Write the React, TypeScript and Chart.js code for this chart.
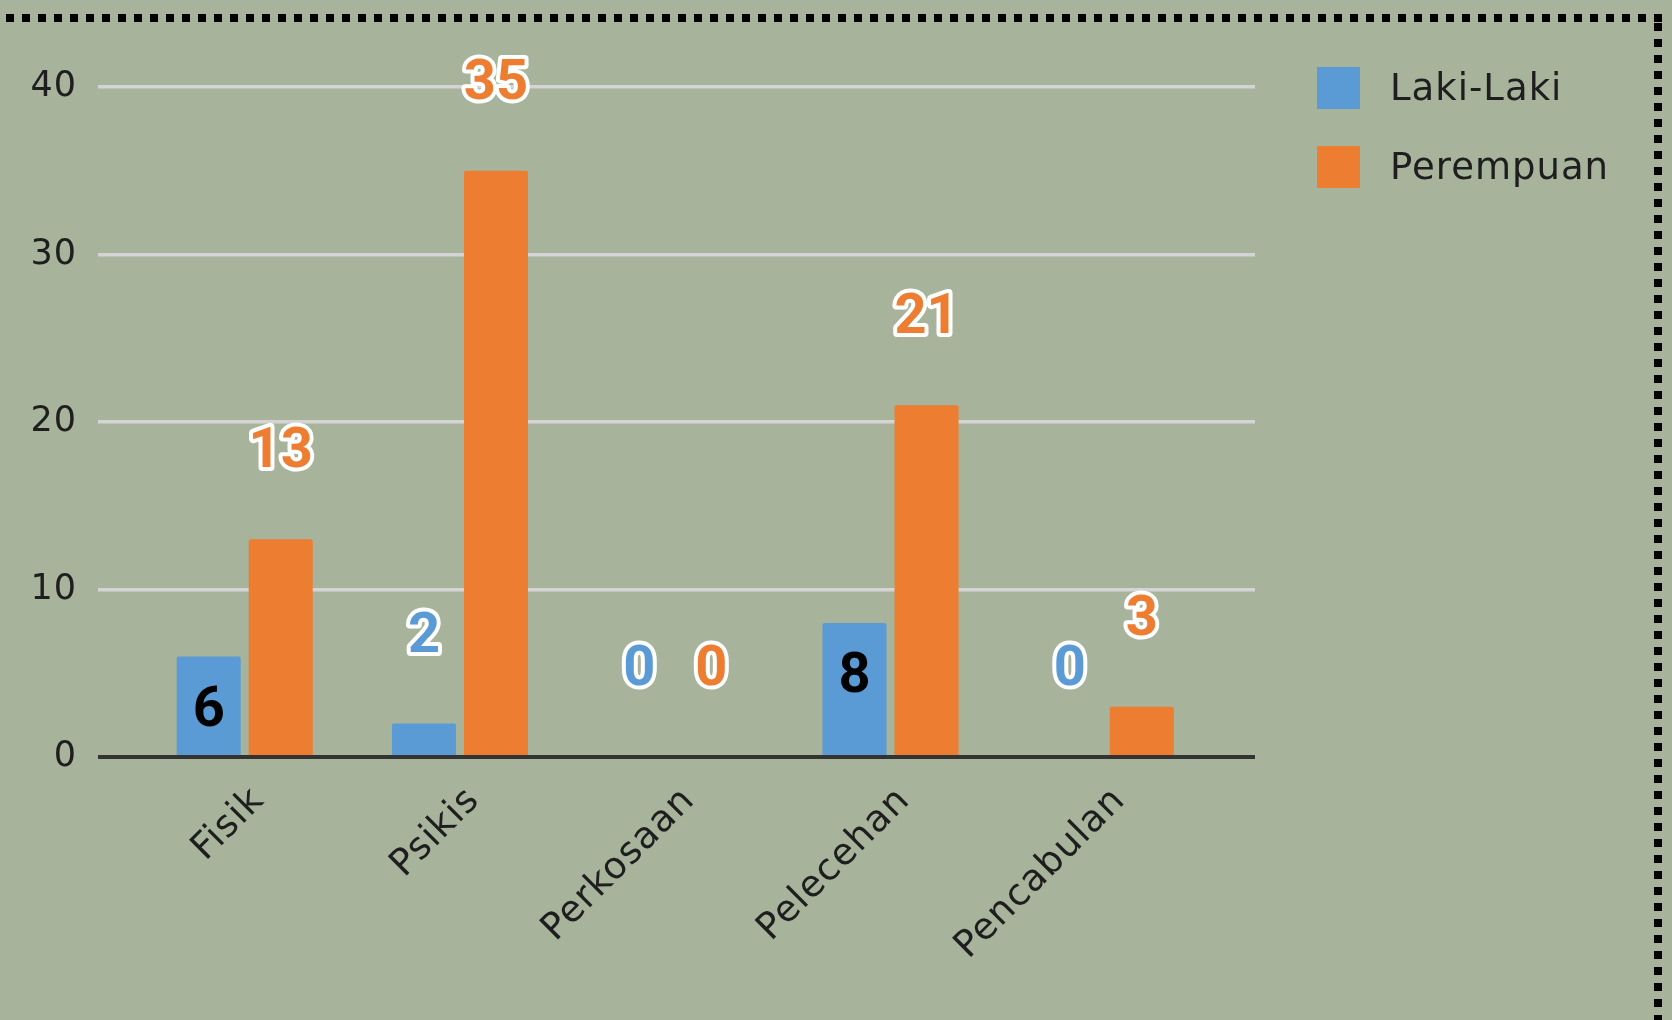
import React, { useEffect, useRef } from "react";
import { Chart, registerables } from "chart.js";

Chart.register(...registerables);

const categories = ["Fisik", "Psikis", "Perkosaan", "Pelecehan", "Pencabulan"];
const lakiLaki = [6, 2, 0, 8, 0];
const perempuan = [13, 35, 0, 21, 3];
const seriesNames = ["Laki-Laki", "Perempuan"];
const yMin = 0;
const yMax = 40;
const yStep = 10;

const BG = "#a7b39b";
const BLUE = "#5b9bd5";
const ORANGE = "#ed7d31";
const TEXT = "#1e1e1e";
const TICK_FONT = '"DejaVu Sans", sans-serif';
const LABEL_FONT = 'Roboto, "DejaVu Sans", sans-serif';

const backgroundPlugin = {
  id: "bgBorder",
  beforeDraw(chart: any) {
    const { ctx, width, height } = chart;
    ctx.save();
    ctx.fillStyle = BG;
    ctx.fillRect(0, 0, width, height);
    ctx.strokeStyle = "#000";
    ctx.lineWidth = 8;
    ctx.lineCap = "butt";
    ctx.setLineDash([8, 8]);
    ctx.beginPath();
    ctx.moveTo(6, 18);
    ctx.lineTo(1662, 18);
    ctx.stroke();
    ctx.beginPath();
    ctx.moveTo(1658, 23);
    ctx.lineTo(1658, height);
    ctx.stroke();
    ctx.restore();
    // slight letter spacing for axis text, like the reference
    (ctx as any).letterSpacing = "1px";
  },
};

const valueLabelPlugin = {
  id: "valueLabels",
  afterDatasetsDraw(chart: any) {
    const ctx = chart.ctx;
    ctx.save();
    (ctx as any).letterSpacing = "0px";
    ctx.font = `bold 56px ${LABEL_FONT}`;
    ctx.textAlign = "center";
    ctx.textBaseline = "middle";
    ctx.lineJoin = "round";
    chart.data.datasets.forEach((ds: any, di: number) => {
      const meta = chart.getDatasetMeta(di);
      meta.data.forEach((bar: any, i: number) => {
        const v = ds.data[i];
        const { x, y, base } = bar.getProps(["x", "y", "base"], true);
        const h = base - y;
        const inside = di === 0 && h > 80;
        const text = String(v);
        if (inside) {
          ctx.fillStyle = "#000";
          ctx.fillText(text, x, y + 55);
        } else {
          const ly = y - 86;
          ctx.lineWidth = 8;
          ctx.strokeStyle = "#ffffff";
          ctx.strokeText(text, x, ly);
          ctx.fillStyle = ds.backgroundColor;
          ctx.fillText(text, x, ly);
        }
      });
    });
    ctx.restore();
  },
};

const legendPlugin = {
  id: "sideLegend",
  afterDraw(chart: any) {
    const ctx = chart.ctx;
    const left = chart.chartArea.right + 62;
    ctx.save();
    (ctx as any).letterSpacing = "1px";
    ctx.font = `37px ${TICK_FONT}`;
    ctx.textAlign = "left";
    ctx.textBaseline = "alphabetic";
    chart.data.datasets.forEach((ds: any, i: number) => {
      const top = 67 + i * 79;
      ctx.fillStyle = ds.backgroundColor;
      ctx.fillRect(left, top, 43, 42);
      ctx.fillStyle = TEXT;
      ctx.fillText(ds.label, left + 73, top + 33);
    });
    ctx.restore();
  },
};

export default function App() {
  const canvasRef = useRef<HTMLCanvasElement | null>(null);

  useEffect(() => {
    document.body.style.margin = "0";
    let chart: Chart | null = null;
    let cancelled = false;
    const make = () => {
      if (cancelled || !canvasRef.current) return;
      chart = new Chart(canvasRef.current, {
        type: "bar",
        data: {
          labels: categories,
          datasets: [
            {
              label: seriesNames[0],
              data: lakiLaki,
              backgroundColor: BLUE,
              categoryPercentage: 0.669,
              barPercentage: 0.889,
              borderRadius: 2,
            },
            {
              label: seriesNames[1],
              data: perempuan,
              backgroundColor: ORANGE,
              categoryPercentage: 0.669,
              barPercentage: 0.889,
              borderRadius: 2,
            },
          ],
        },
        options: {
          responsive: false,
          animation: false,
          devicePixelRatio: 1,
          layout: { padding: { top: 87, right: 417, left: 0, bottom: 0 } },
          plugins: {
            legend: { display: false },
            tooltip: { enabled: false },
          },
          scales: {
            x: {
              grid: { display: false },
              border: { display: false },
              ticks: {
                autoSkip: false,
                minRotation: 45,
                maxRotation: 45,
                padding: 14,
                labelOffset: 14,
                color: TEXT,
                font: { family: TICK_FONT, size: 37 },
              },
              afterBuildTicks: (scale: any) => {
                scale._startValue = -0.6815;
                scale._valueRange = 5.3746;
              },
              afterFit: (scale: any) => {
                scale.height = 263;
              },
            },
            y: {
              min: yMin,
              max: yMax,
              border: { display: false },
              grid: {
                drawTicks: false,
                color: (c: any) => (c.tick && c.tick.value === 0 ? "#333333" : "#d4d4d4"),
                lineWidth: (c: any) => (c.tick && c.tick.value === 0 ? 4 : 3.5),
              },
              ticks: {
                stepSize: yStep,
                padding: 21,
                color: TEXT,
                font: { family: TICK_FONT, size: 35 },
              },
              afterFit: (scale: any) => {
                scale.width = 98;
              },
            },
          },
        },
        plugins: [backgroundPlugin, valueLabelPlugin, legendPlugin],
      });
    };
    const fonts: any = (document as any).fonts;
    if (fonts && fonts.load) {
      Promise.all([
        fonts.load(`bold 56px Roboto`),
        fonts.load(`37px "DejaVu Sans"`),
      ])
        .catch(() => null)
        .then(make);
    } else {
      make();
    }
    return () => {
      cancelled = true;
      if (chart) chart.destroy();
    };
  }, []);

  return (
    <div style={{ width: 1672, height: 1020 }}>
      <canvas ref={canvasRef} width={1672} height={1020} style={{ display: "block" }} />
    </div>
  );
}
